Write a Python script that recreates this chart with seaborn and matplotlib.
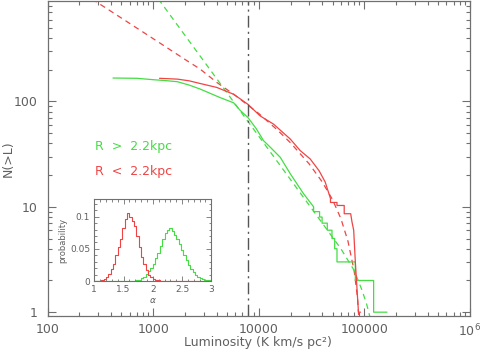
import matplotlib
matplotlib.use('Agg')
import matplotlib.pyplot as plt
import matplotlib.ticker as mticker
import seaborn as sns
import numpy as np
import pandas as pd

# cumulative N(>L) for clouds at R > 2.2 kpc (solid green)
lum_outer = [417, 700, 1000, 1300, 1700, 2200, 2800, 3500, 4300, 5800, 6700, 7900,
             9500, 11100, 12900, 16000, 19900, 26600, 33100, 33100, 37700, 37700,
             39800, 39800, 44600, 44600, 49400, 49400, 52400, 52400, 55100, 55100,
             82200, 82200, 122500, 122500, 164000]
n_outer = [167, 166, 161, 158, 154, 143, 131, 119, 109, 97, 82, 70.5,
           55, 42.5, 36.7, 29.5, 20.6, 13.3, 10, 9, 9, 8,
           8, 7, 7, 6, 6, 5, 5, 4, 4, 3,
           3, 2, 2, 1, 1]

# cumulative N(>L) for clouds at R < 2.2 kpc (solid red)
lum_inner = [1150, 1300, 1700, 2200, 2800, 4000, 5800, 7900, 10300, 13800, 19900,
             24700, 30700, 37300, 42600, 47800, 47800, 55100, 55100, 64500, 64500,
             74300, 76400, 79300, 82200, 84300, 88000, 92000]
n_inner = [166, 165, 163, 157, 148, 136, 117, 94, 73, 61, 44,
           34.2, 28.5, 22, 17.2, 12, 11, 11, 10.3, 10.3, 8.6,
           8.6, 7.2, 6, 3, 2, 1, 1]

# fitted truncated power laws (dashed)
lum_fit_outer = [1000, 1165, 2000, 3000, 5000, 8000, 15000, 30000, 60000, 80000,
                 95000, 105000, 113000]
n_fit_outer = [1099, 892, 425, 244, 121, 63.6, 26.9, 10.4, 4.0, 2.5, 1.62, 1.2, 0.9]

lum_fit_inner = [200, 500, 1000, 2000, 2786, 4000, 6000, 10000, 15000, 20000, 30000,
                 40000, 50000, 60000, 70000, 76400, 80000, 86000, 89000]
n_fit_inner = [1123, 620, 395, 251, 203, 152, 114, 77, 53.7, 40.5, 25.6,
               17.2, 11.7, 7.73, 4.72, 3.1, 2.5, 1.4, 0.85]

L_break = 7900

# inset: probability distribution of the power-law index alpha (bins of 0.04 from 1 to 3)
p_inner = [0, 0, 0, 0.001, 0.003, 0.006, 0.011, 0.018, 0.027, 0.040,
           0.053, 0.066, 0.082, 0.096, 0.105, 0.099, 0.094, 0.085, 0.070, 0.053,
           0.038, 0.027, 0.017, 0.010, 0.006, 0.003, 0.002, 0.001, 0.0005, 0,
           0, 0, 0, 0, 0, 0, 0, 0, 0, 0,
           0, 0, 0, 0, 0, 0, 0, 0, 0, 0]
p_outer = [0, 0, 0, 0, 0, 0, 0, 0, 0, 0,
           0, 0, 0, 0, 0, 0, 0, 0, 0.001, 0.002,
           0.004, 0.007, 0.011, 0.015, 0.020, 0.027, 0.035, 0.044, 0.054, 0.065,
           0.074, 0.079, 0.082, 0.078, 0.072, 0.066, 0.057, 0.048, 0.040, 0.032,
           0.025, 0.019, 0.014, 0.010, 0.007, 0.004, 0.003, 0.002, 0.001, 0.001]
alpha_edges = [round(1.0 + 0.04 * i, 2) for i in range(len(p_inner) + 1)]

green = '#44dd44'
red = '#f04444'
grey = '#606060'

sns.set_theme(style='ticks')
plt.rcParams['font.family'] = ['DejaVu Sans']
plt.rcParams['axes.edgecolor'] = '#707070'
plt.rcParams['xtick.color'] = '#707070'
plt.rcParams['ytick.color'] = '#707070'
plt.rcParams['xtick.labelcolor'] = grey
plt.rcParams['ytick.labelcolor'] = grey

fig = plt.figure(figsize=(4.8, 3.52), dpi=100)
ax = fig.add_axes([0.099, 0.1023, 0.880, 0.8947])

sns.lineplot(x=lum_fit_inner, y=n_fit_inner, estimator=None, sort=False, ax=ax,
             color=red, lw=0.9, linestyle=(0, (4.5, 3.5)))
sns.lineplot(x=lum_fit_outer, y=n_fit_outer, estimator=None, sort=False, ax=ax,
             color=green, lw=0.9, linestyle=(0, (4.5, 3.5)))
sns.lineplot(x=lum_outer, y=n_outer, estimator=None, sort=False, ax=ax,
             color=green, lw=0.9)
sns.lineplot(x=lum_inner, y=n_inner, estimator=None, sort=False, ax=ax,
             color=red, lw=0.9)
ax.axvline(L_break, color='#555555', lw=1, linestyle=(0, (8.5, 3, 1.5, 3)))

ax.set_xscale('log')
ax.set_yscale('log')
ax.set_xlim(100, 1e6)
ax.set_ylim(0.92, 898)

ax.xaxis.set_major_locator(mticker.FixedLocator([1e2, 1e3, 1e4, 1e5, 1e6]))
ax.xaxis.set_major_formatter(mticker.FixedFormatter(['100', '1000', '10000', '100000', r'10$^6$']))
ax.yaxis.set_major_locator(mticker.FixedLocator([1, 10, 100]))
ax.yaxis.set_major_formatter(mticker.FixedFormatter(['1', '10', '100']))
ax.xaxis.set_minor_locator(mticker.LogLocator(base=10, subs=np.arange(2, 10)))
ax.yaxis.set_minor_locator(mticker.LogLocator(base=10, subs=np.arange(2, 10)))
ax.yaxis.set_minor_formatter(mticker.NullFormatter())
ax.xaxis.set_minor_formatter(mticker.NullFormatter())
ax.tick_params(which='both', direction='in', top=True, right=True, width=0.8)
ax.tick_params(which='major', length=5.5, labelsize=9, pad=7)
ax.tick_params(axis='x', which='major', pad=5)
ax.tick_params(which='minor', length=3)
for s in ax.spines.values():
    s.set_linewidth(0.9)

ax.set_xlabel('Luminosity (K km/s pc\u00b2)', fontsize=9, color=grey)
ax.xaxis.set_label_coords(0.497, -0.063)
ax.set_ylabel('N(>L)', fontsize=9, color=grey)
ax.yaxis.set_label_coords(-0.078, 0.5)

ax.text(0.113, 0.537, 'R  >  2.2kpc', transform=ax.transAxes, color=green,
        fontsize=9, va='center')
ax.text(0.113, 0.46, 'R  <  2.2kpc', transform=ax.transAxes, color=red,
        fontsize=9, va='center')

# inset
hist_df = pd.DataFrame({
    'alpha': [(alpha_edges[i] + alpha_edges[i + 1]) / 2 for i in range(len(p_inner))],
    'p_inner': p_inner,
    'p_outer': p_outer,
})
axi = fig.add_axes([0.1965, 0.2017, 0.2437, 0.232])
sns.histplot(data=hist_df, x='alpha', weights='p_outer', bins=alpha_edges, element='step',
             fill=False, color=green, lw=0.8, ax=axi)
sns.histplot(data=hist_df, x='alpha', weights='p_inner', bins=alpha_edges, element='step',
             fill=False, color=red, lw=0.8, ax=axi)
axi.set_xlim(1, 3)
axi.set_ylim(0, 0.127)
axi.xaxis.set_major_locator(mticker.FixedLocator([1, 1.5, 2, 2.5, 3]))
axi.xaxis.set_major_formatter(mticker.FixedFormatter(['1', '1.5', '2', '2.5', '3']))
axi.yaxis.set_major_locator(mticker.FixedLocator([0, 0.05, 0.1]))
axi.yaxis.set_major_formatter(mticker.FixedFormatter(['0', '0.05', '0.1']))
axi.xaxis.set_minor_locator(mticker.MultipleLocator(0.1))
axi.yaxis.set_minor_locator(mticker.MultipleLocator(0.01))
axi.tick_params(which='both', direction='in', top=True, right=True, width=0.6)
axi.tick_params(which='major', length=3.5, labelsize=6.5, pad=3)
axi.tick_params(which='minor', length=1.8)
for s in axi.spines.values():
    s.set_linewidth(0.8)
axi.set_xlabel(r'$\alpha$', fontsize=6.5, color=grey, labelpad=1)
axi.set_ylabel('probability', fontsize=6, color=grey, labelpad=2)

fig.savefig('out.png', dpi=100)
